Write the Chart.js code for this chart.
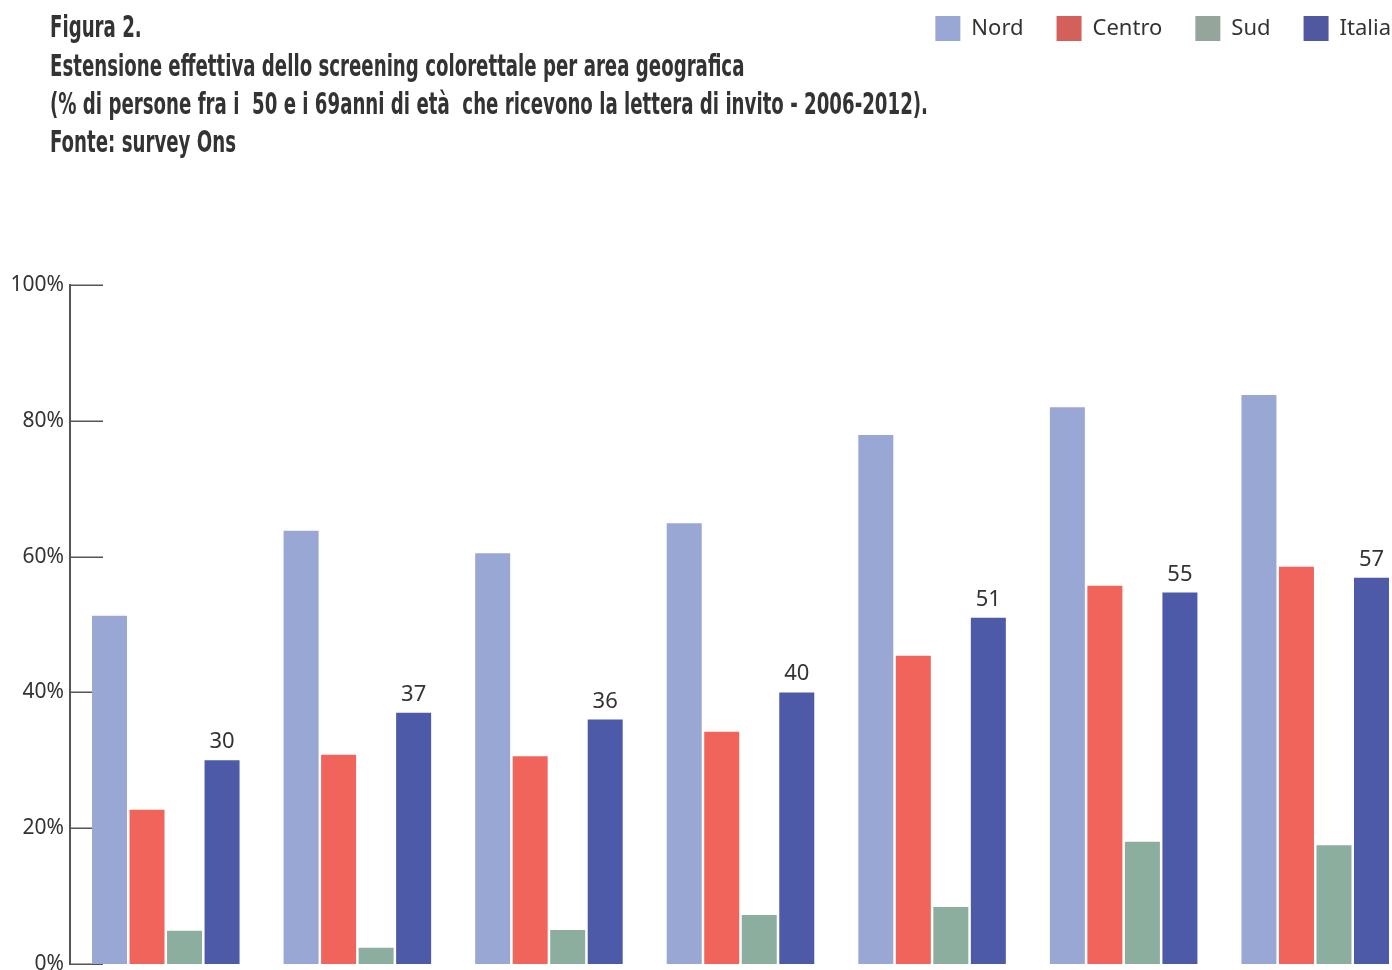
<!DOCTYPE html>
<html><head><meta charset="utf-8">
<script src="https://cdn.jsdelivr.net/npm/chart.js@4/dist/chart.umd.min.js"></script>
<style>
html,body{margin:0;padding:0;background:#fff;overflow:hidden;}
#wrap{position:relative;width:1392px;height:970px;overflow:hidden;background:#fff;}
#c{position:absolute;left:0;top:0;}
.t{position:absolute;left:50px;font-family:"Liberation Sans Narrow","DejaVu Sans Condensed",sans-serif;font-weight:bold;font-size:30px;color:#333;white-space:pre;transform-origin:0 0;line-height:30px;}
</style></head><body>
<div id="wrap">
<canvas id="c" width="1424" height="1000" style="width:1424px;height:1000px"></canvas>
<div class="t" style="top:12px">Figura 2.</div>
<div class="t" style="top:51px">Estensione effettiva dello screening colorettale per area geografica</div>
<div class="t" id="tl3" style="top:89px">(% di persone fra i  50 e i 69anni di età  che ricevono la lettera di invito - 2006-2012).</div>
<div class="t" style="top:127px">Fonte: survey Ons</div>
</div>
<script>
const categories = ['2006','2007','2008','2009','2010','2011','2012'];
const seriesNames = ['Nord','Centro','Sud','Italia'];
const nord   = [51.3, 63.8, 60.5, 64.9, 77.9, 82.0, 83.8];
const centro = [22.7, 30.8, 30.6, 34.2, 45.4, 55.7, 58.5];
const sud    = [4.9, 2.4, 5.0, 7.2, 8.4, 18.0, 17.5];
const italia = [30, 37, 36, 40, 51, 54.7, 56.9];
const yTicks = [0, 20, 40, 60, 80, 100];

const barColors = ['#99a7d4', '#f0645c', '#8cae9f', '#4c5aa8'];
const legendColors = ['#99a7d4', '#d4605c', '#95a59b', '#5058a0'];

// scale title lines horizontally to match the condensed face
(function(){
  const l3 = document.getElementById('tl3');
  const w = l3.getBoundingClientRect().width;
  const s = 878 / w;
  document.querySelectorAll('.t').forEach(el => el.style.transform = 'scaleX(' + s + ')');
})();

Chart.defaults.font.family = '"Noto Sans", sans-serif';
Chart.defaults.color = '#333';

const tickMarks = {
  id: 'tickMarks',
  beforeDatasetsDraw(chart) {
    const y = chart.scales.y, ctx = chart.ctx, left = chart.chartArea.left;
    ctx.save();
    ctx.strokeStyle = '#555';
    ctx.lineWidth = 1.5;
    yTicks.forEach(v => {
      const py = Math.round(y.getPixelForValue(v)) + 0.25;
      ctx.beginPath(); ctx.moveTo(left, py); ctx.lineTo(left + 33, py); ctx.stroke();
    });
    ctx.restore();
  }
};

const valueLabels = {
  id: 'valueLabels',
  afterDatasetsDraw(chart) {
    const meta = chart.getDatasetMeta(3), ctx = chart.ctx;
    ctx.save();
    ctx.font = '22px "Noto Sans", sans-serif';
    ctx.fillStyle = '#333';
    ctx.textAlign = 'center';
    ctx.textBaseline = 'alphabetic';
    meta.data.forEach((bar, i) => {
      ctx.fillText(String(Math.round(italia[i])), bar.x, bar.y - 12);
    });
    ctx.restore();
  }
};

const legendLayout = {
  id: 'legendLayout',
  beforeInit(chart) {
    const lg = chart.legend;
    const orig = lg.fit;
    lg.fit = function() { orig.call(lg); this.height = 285; };
  },
  afterLayout(chart) {
    const lg = chart.legend;
    lg.left += 13; lg.right += 13; lg.top = -17;
  }
};

const ds = [nord, centro, sud, italia].map((d, i) => ({
  label: seriesNames[i],
  data: d,
  backgroundColor: barColors[i],
  borderWidth: 0,
  categoryPercentage: 0.7833,
  barPercentage: 0.933
}));

new Chart(document.getElementById('c'), {
  type: 'bar',
  data: { labels: categories, datasets: ds },
  plugins: [tickMarks, valueLabels, legendLayout],
  options: {
    responsive: false,
    animation: false,
    devicePixelRatio: 1,
    layout: { padding: { left: 0, right: 13, top: 0, bottom: 36 } },
    plugins: {
      title: { display: false },
      tooltip: { enabled: false },
      legend: {
        position: 'top',
        align: 'end',
        labels: {
          boxWidth: 25,
          boxHeight: 25,
          padding: 33,
          color: '#333',
          font: { size: 22, family: '"Noto Sans", sans-serif' },
          generateLabels(chart) {
            const items = Chart.defaults.plugins.legend.labels.generateLabels(chart);
            items.forEach((it, i) => { it.fillStyle = legendColors[i]; it.strokeStyle = legendColors[i]; it.lineWidth = 0; });
            return items;
          }
        }
      }
    },
    scales: {
      x: { display: false, offset: true },
      y: {
        min: 0, max: 100,
        afterFit(scale) { scale.width = 70; },
        afterBuildTicks(scale) { scale.ticks = yTicks.map(v => ({ value: v })); },
        ticks: {
          padding: 6,
          color: '#333',
          font: { size: 21 },
          callback: v => v + '%'
        },
        grid: { display: false, drawTicks: false },
        border: { display: true, color: '#555', width: 2 }
      }
    }
  }
});
</script>
</body></html>
